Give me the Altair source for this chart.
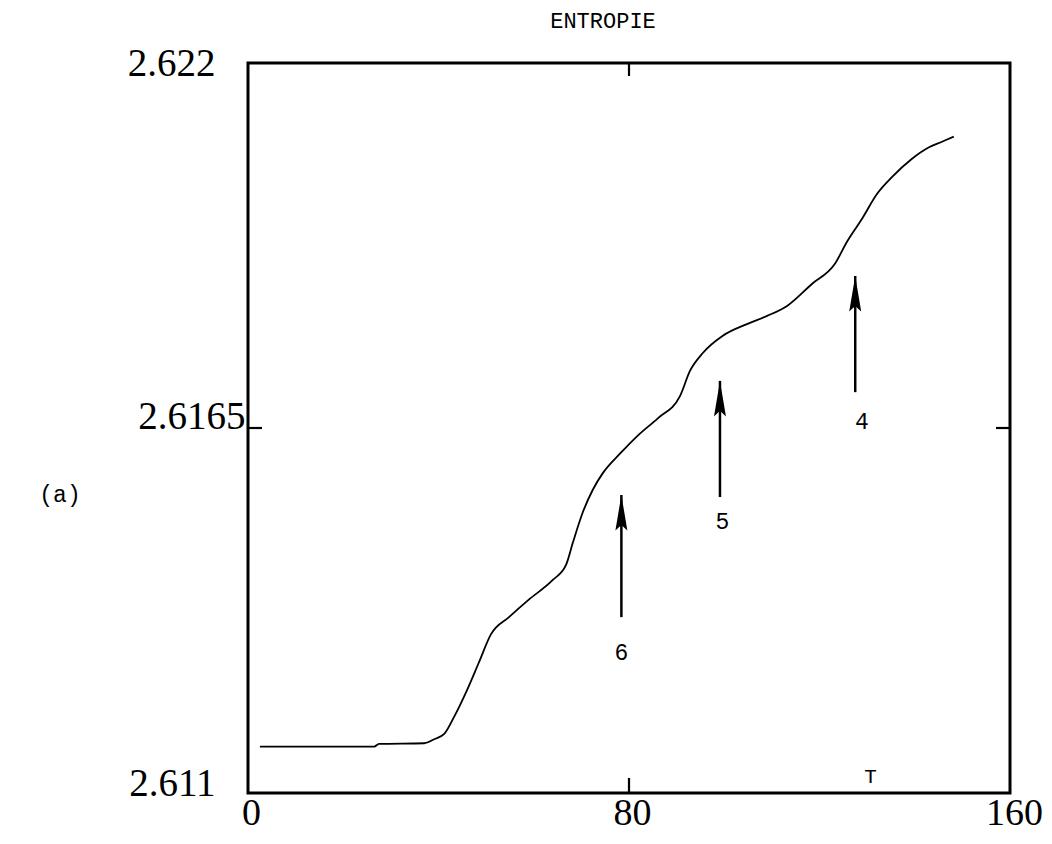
import altair as alt
import pandas as pd

# ---------------- data ----------------
T = [2.5, 26.5, 27.5, 37.0, 39.1, 41.2, 43.3, 45.8, 48.5, 51.0,
     54.8, 58.9, 64.0, 66.8, 68.2, 70.3, 72.4, 74.5, 78.2, 81.9,
     86.1, 90.7, 92.8, 95.5, 99.7, 104.9, 109.0, 113.2, 118.4, 123.2,
     125.8, 128.9, 132.1, 135.2, 139.3, 143.0, 145.6, 148.2]
S = [2.61170, 2.61170, 2.61174, 2.61175, 2.61181, 2.61189, 2.61215, 2.61252, 2.61297, 2.61339,
     2.61365, 2.61391, 2.61421, 2.61444, 2.61477, 2.61523, 2.61557, 2.61582, 2.61612, 2.61639,
     2.61665, 2.61698, 2.61736, 2.61763, 2.61789, 2.61807, 2.61819, 2.61834, 2.61867, 2.61897,
     2.61931, 2.61965, 2.62003, 2.62028, 2.62055, 2.62073, 2.62081, 2.62089]

x_ticks = [0, 80, 160]
y_ticks = [2.611, 2.6165, 2.622]

arrow_names = ["6", "5", "4"]
arrow_T = [78.4, 99.1, 127.5]
arrow_base = [2.61365, 2.61546, 2.61704]
arrow_tip = [2.61549, 2.61721, 2.61879]
label_T = [78.4, 99.6, 128.9]
label_S = [2.61311, 2.61509, 2.61659]

title_text = "ENTROPIE"
panel_text = "(a)"
x_title = "T"

# ---------------- layout / style ----------------
W, H = 762, 730
SERIF = "Liberation Serif"
MONO = "Liberation Mono"

x_dom = [x_ticks[0], x_ticks[-1]]
y_dom = [y_ticks[0], y_ticks[-1]]
xs = alt.Scale(domain=x_dom, nice=False, zero=False)
ys = alt.Scale(domain=y_dom, nice=False, zero=False)

xu = (x_dom[1] - x_dom[0]) / W
yu = (y_dom[1] - y_dom[0]) / H

mid_y = y_ticks[1]
low_y = y_ticks[0]

x_axis = alt.Axis(
    values=x_ticks, title=x_title, labelFont=SERIF, labelFontSize=38,
    labelColor="black", labelPadding=1, labelBaseline="top",
    labelFlush=False,
    labelOffset={"condition": {"test": f"datum.value == {x_ticks[-1]}", "value": 4}, "value": 3},
    titleFont=MONO, titleFontSize=21, titleFontWeight="normal", titleColor="black",
    titleX=622, titleY=-11, titleAlign="center", titleBaseline="alphabetic", titleAngle=0,
)
y_axis = alt.Axis(
    values=y_ticks, title="", labelFont=SERIF, labelFontSize=39, labelColor="black",
    labelExpr="format(datum.value, '~g')", labelFlush=False,
    labelPadding={"condition": {"test": f"datum.value == {mid_y}", "value": 3}, "value": 33},
    labelBaseline={"condition": {"test": f"datum.value == {mid_y}", "value": "alphabetic"}, "value": "middle"},
    labelOffset={"condition": {"test": f"datum.value == {low_y}", "value": -10}, "value": 0},
)

curve = pd.DataFrame({"T": T, "S": S})
line = alt.Chart(curve).mark_line(color="black", strokeWidth=1.8, interpolate="monotone").encode(
    x=alt.X("T:Q", scale=xs, axis=x_axis),
    y=alt.Y("S:Q", scale=ys, axis=y_axis),
)

arrows = pd.DataFrame({"T": arrow_T, "base": arrow_base, "tip": arrow_tip,
                       "name": arrow_names, "lT": label_T, "lS": label_S})

shafts = alt.Chart(arrows).mark_rule(color="black", strokeWidth=2.5).encode(
    x=alt.X("T:Q", scale=xs, axis=x_axis),
    y=alt.Y("base:Q", scale=ys, axis=y_axis),
    y2="tip:Q",
)

HEAD = "M0,0L0.32,1.9L0,1.6L-0.32,1.9Z"
heads = alt.Chart(arrows).mark_point(
    shape=HEAD, filled=True, size=1400, color="black", opacity=1, strokeWidth=0
).encode(
    x=alt.X("T:Q", scale=xs, axis=x_axis),
    y=alt.Y("tip:Q", scale=ys, axis=y_axis),
)

labels = alt.Chart(arrows).mark_text(
    font=MONO, fontSize=23, color="black", baseline="middle", align="center"
).encode(
    x=alt.X("lT:Q", scale=xs, axis=x_axis),
    y=alt.Y("lS:Q", scale=ys, axis=y_axis),
    text="name:N",
)

tick_rows = pd.DataFrame({
    "x": [x_ticks[1], x_ticks[1], x_dom[0], x_dom[1]],
    "x2": [x_ticks[1], x_ticks[1], x_dom[0] + 14 * xu, x_dom[1] - 14 * xu],
    "y": [y_dom[1], y_dom[0], mid_y, mid_y],
    "y2": [y_dom[1] - 13 * yu, y_dom[0] + 15 * yu, mid_y, mid_y],
})
inner_ticks = alt.Chart(tick_rows).mark_rule(color="black", strokeWidth=2.2).encode(
    x=alt.X("x:Q", scale=xs, axis=x_axis),
    x2="x2:Q",
    y=alt.Y("y:Q", scale=ys, axis=y_axis),
    y2="y2:Q",
)

title_mark = alt.Chart(pd.DataFrame({"t": [title_text]})).mark_text(
    font=MONO, fontSize=22, color="black", baseline="middle", align="center"
).encode(text="t:N", x=alt.value(355), y=alt.value(-42))

panel_mark = alt.Chart(pd.DataFrame({"t": [panel_text]})).mark_text(
    font=MONO, fontSize=23, color="black", baseline="middle", align="center"
).encode(text="t:N", x=alt.value(-188), y=alt.value(432))

chart = alt.layer(
    line, inner_ticks, shafts, heads, labels, title_mark, panel_mark
).properties(
    width=W, height=H,
    autosize=alt.AutoSizeParams(type="none"),
    padding={"left": 240, "top": 55, "right": 34, "bottom": 45},
    background="white",
).configure_view(
    stroke="black", strokeWidth=3
).configure_axis(
    grid=False, domain=False, ticks=False
)

chart.save("out.html", embed_options={"renderer": "svg", "actions": False})
